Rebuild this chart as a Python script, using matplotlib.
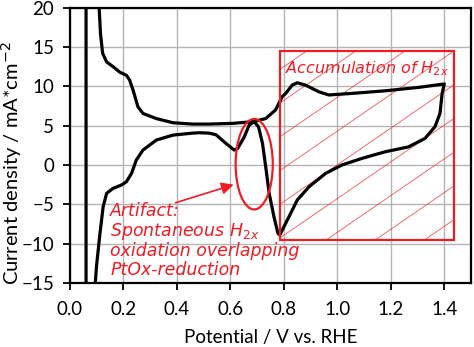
import matplotlib
matplotlib.use('Agg')
import matplotlib.pyplot as plt
from matplotlib.patches import Rectangle, Ellipse
import numpy as np

# anodic sweep (upper branch)
pot_up = [0.06, 0.06, 0.104, 0.109, 0.114, 0.122, 0.137, 0.161, 0.186, 0.211, 0.223, 0.236,
          0.254, 0.273, 0.323, 0.385, 0.459, 0.52, 0.608, 0.683, 0.732, 0.769, 0.794, 0.807,
          0.831, 0.85, 0.881, 0.931, 0.968, 1.055, 1.179, 1.303, 1.40]
cur_up = [-40, 40, 25, 20, 16.7, 14.2, 13.1, 12.5, 11.8, 11.4, 10.8, 9.5,
          7.4, 6.55, 5.9, 5.37, 5.2, 5.2, 5.29, 5.5, 5.9, 7.0, 8.7, 9.1,
          10.15, 10.45, 10.15, 9.3, 8.9, 9.1, 9.43, 9.86, 10.3]

# cathodic sweep (lower branch)
pot_down = [1.40, 1.392, 1.384, 1.365, 1.328, 1.266, 1.179, 1.092, 1.017, 0.956, 0.894, 0.85,
            0.819, 0.795, 0.785, 0.778, 0.763, 0.745, 0.732, 0.72, 0.705, 0.689, 0.67, 0.652,
            0.627, 0.614, 0.583, 0.546, 0.52, 0.484, 0.459, 0.385, 0.323, 0.273, 0.248, 0.23,
            0.211, 0.192, 0.161, 0.137, 0.124, 0.112, 0.099, 0.095, 0.09, 0.06]
cur_down = [10.3, 9.1, 6.56, 4.86, 3.38, 2.3, 1.68, 0.84, 0.0, -1.07, -2.77, -4.46,
            -6.58, -8.2, -8.9, -8.7, -6.6, -3.6, -0.23, 2.75, 4.86, 5.5, 5.07, 3.58,
            2.1, 1.9, 2.75, 3.85, 4.05, 4.1, 4.05, 3.8, 3.17, 1.9, 0.63, -1.07,
            -2.13, -2.55, -2.97, -3.6, -5.3, -8.7, -12.9, -14.8, -20, -40]

x_ticks = [0.0, 0.2, 0.4, 0.6, 0.8, 1.0, 1.2, 1.4]
y_ticks = [-15, -10, -5, 0, 5, 10, 15, 20]

red = '#ee1c24'

plt.rcParams['font.family'] = ['Lato', 'DejaVu Sans']
fig = plt.figure(figsize=(4.74, 3.47), dpi=100)
ax = fig.add_axes([0.1477, 0.1844, 0.846, 0.7936])

ax.plot(pot_up + pot_down, cur_up + cur_down, color='black', lw=2.3, zorder=3)

ax.set_xlim(0, 1.5)
ax.set_ylim(-15, 20)
ax.set_xticks(x_ticks)
ax.set_xticklabels([f'{t:.1f}' for t in x_ticks])
ax.set_yticks(y_ticks)
ax.grid(True, color='#b4b4b4', lw=1.0)
ax.set_axisbelow(True)
for s in ax.spines.values():
    s.set_linewidth(1.6)
    s.set_color('black')
ax.tick_params(direction='out', length=5, width=1.3, labelsize=13.5)
ax.tick_params(axis='x', pad=8)
ax.tick_params(axis='y', pad=6.5)
ax.set_xlabel('Potential / V vs. RHE', fontsize=13.5, labelpad=8)
ax.set_ylabel('Current density / mA*cm$^{-2}$', fontsize=14.5)
ax.yaxis.set_label_coords(-0.147, 0.436)
ax.yaxis.label.set_verticalalignment('center')

# hatched box
rect = Rectangle((0.784, -9.55), 1.435 - 0.784, 14.55 + 9.55, fill=False,
                 ec=red, lw=1.6, zorder=4)
ax.add_patch(rect)
for c in np.arange(-0.85, 0.5, 0.1225):
    ln, = ax.plot([0, 1], [c, 1 + c], transform=ax.transAxes, color=red,
                  lw=0.6, alpha=0.75, zorder=2)
    ln.set_clip_path(rect)

ax.text(0.806, 11.6, 'Accumulation of H$_{2x}$', color=red, fontsize=11.5,
        family='DejaVu Sans', style='italic', va='baseline', zorder=5)

# ellipse around artifact
ax.add_patch(Ellipse((0.689, 0.1), 0.139, 11.5, fill=False, ec=red, lw=1.6, zorder=4))
ax.annotate('', xy=(0.612, -2.5), xytext=(0.395, -4.8),
            arrowprops=dict(arrowstyle='-|>', color=red, lw=1.2,
                            mutation_scale=18, shrinkA=0, shrinkB=0))
ax.text(0.15, -4.7, 'Artifact:\nSpontaneous H$_{2x}$\noxidation overlapping\nPtOx-reduction',
        color=red, fontsize=12.5, family='DejaVu Sans', style='italic',
        va='top', ha='left', linespacing=1.05, zorder=5)

fig.savefig('out.png', dpi=100)
